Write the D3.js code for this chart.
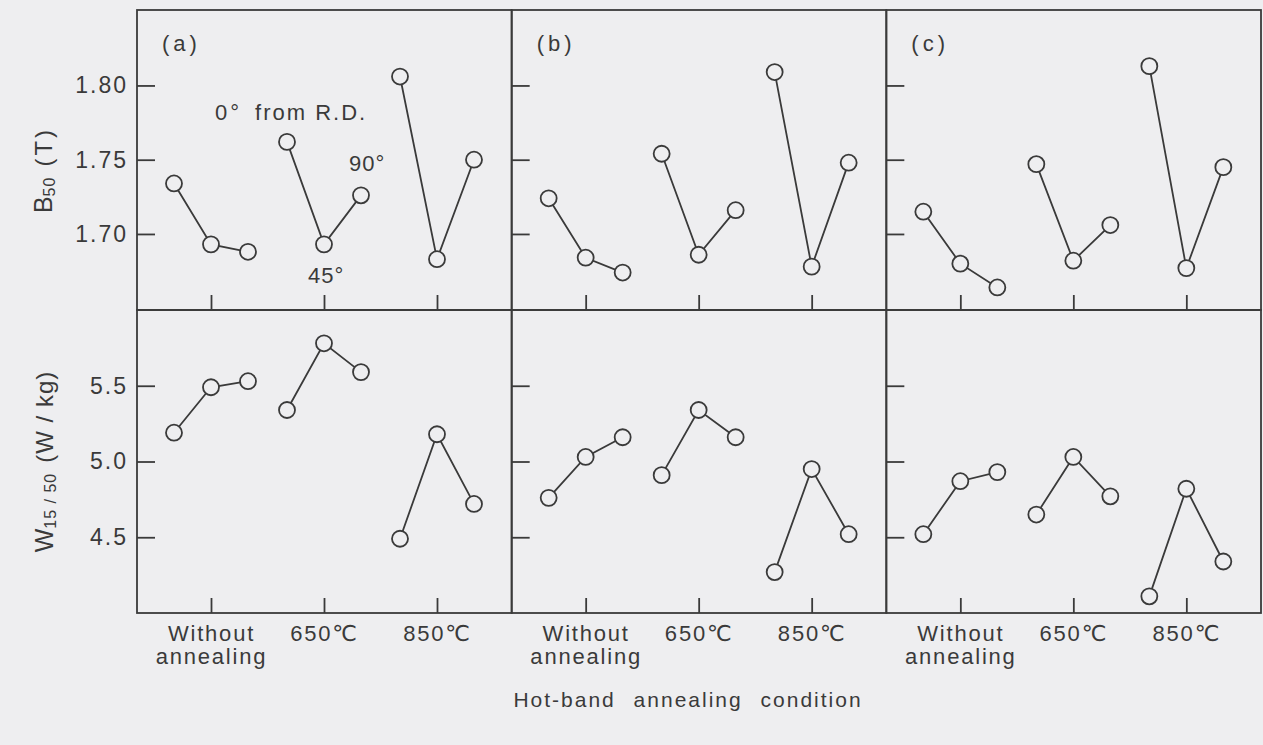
<!DOCTYPE html>
<html>
<head>
<meta charset="utf-8">
<script src="https://cdn.jsdelivr.net/npm/d3@7"></script>
<style>
	body { margin: 0; background: #eeeef0; }
	svg text { font-family: "Liberation Sans", Arial, "DejaVu Sans", sans-serif; fill: #3a3a3a; }
</style>
</head>
<body>
<div id="chart"></div>
<script>
// values
const conditions = ["Without annealing", "650℃", "850℃"];
const angles = [0, 45, 90];
const panelNames = ["(a)", "(b)", "(c)"];

// B50 (T), one row per condition, columns = 0, 45, 90 deg from R.D.
const b50_a = [[1.734, 1.693, 1.688], [1.762, 1.693, 1.726], [1.806, 1.683, 1.750]];
const b50_b = [[1.724, 1.684, 1.674], [1.754, 1.686, 1.716], [1.809, 1.678, 1.748]];
const b50_c = [[1.715, 1.680, 1.664], [1.747, 1.682, 1.706], [1.813, 1.677, 1.745]];

// W15/50 (W/kg)
const w1550_a = [[5.19, 5.49, 5.53], [5.34, 5.78, 5.59], [4.49, 5.18, 4.72]];
const w1550_b = [[4.76, 5.03, 5.16], [4.91, 5.34, 5.16], [4.27, 4.95, 4.52]];
const w1550_c = [[4.52, 4.87, 4.93], [4.65, 5.03, 4.77], [4.11, 4.82, 4.34]];

const b50Ticks = [1.70, 1.75, 1.80];
const w1550Ticks = [4.5, 5.0, 5.5];

var AnnealingPanels = function(view, plotWidth, plotHeight){
	const s = this;
	const
		LEFT = 137, RIGHT = 1261,
		TOP = 10, MID = 310, BOTTOM = 613,
		R = 8, Y_TICK = 18, X_TICK = 15,
		INK = "#3a3a3a", BG = "#eeeef0";

	var svg, panelX, xCond, xAng, yB, yW;

	s.init = function(){
		s.putToView();
		s.makeScales();
		s.drawFrames();
		s.drawAxes();
		s.drawSeries();
		s.drawLabels();
	}

	s.putToView = function(){
		svg = d3.select(view)
			.append("svg")
			.attr("width", plotWidth)
			.attr("height", plotHeight)
			.style("display", "block")
			.style("background", BG);
	}

	s.makeScales = function(){
		panelX = d3.scaleBand().domain(panelNames).range([LEFT, RIGHT]);
		xCond = d3.scalePoint().domain(conditions).range([74, 300]);
		xAng = d3.scaleLinear().domain([0, 90]).range([-37, 37]);
		yB = d3.scaleLinear().domain([1.6488, 1.8508]).range([MID, TOP]);
		yW = d3.scaleLinear().domain([4.0, 6.0]).range([BOTTOM, MID]);
	}

	s.rows = function(){
		return [
			{y: yB, top: TOP, bottom: MID, ticks: b50Ticks, fmt: d3.format(".2f"), data: [b50_a, b50_b, b50_c]},
			{y: yW, top: MID, bottom: BOTTOM, ticks: w1550Ticks, fmt: d3.format(".1f"), data: [w1550_a, w1550_b, w1550_c]}
		];
	}

	s.drawFrames = function(){
		s.rows().forEach(function(row){
			svg.selectAll(null)
				.data(panelNames)
				.enter()
				.append("rect")
				.attr("x", function(d){ return panelX(d); })
				.attr("y", row.top)
				.attr("width", panelX.bandwidth())
				.attr("height", row.bottom - row.top)
				.attr("fill", "none")
				.attr("stroke", INK)
				.attr("stroke-width", 1.8);
		});
	}

	s.drawAxes = function(){
		s.rows().forEach(function(row, ri){
			panelNames.forEach(function(p, pi){
				var yAxis = d3.axisLeft(row.y)
					.tickValues(row.ticks)
					.tickSizeInner(-Y_TICK).tickSizeOuter(0)
					.tickPadding(9)
					.tickFormat(pi == 0 ? row.fmt : "");
				var gy = svg.append("g")
					.attr("transform", "translate(" + panelX(p) + ",0)")
					.call(yAxis);
				gy.select(".domain").remove();
				gy.selectAll("line").attr("stroke", INK).attr("stroke-width", 1.8);
				gy.selectAll("text")
					.attr("fill", null)
					.style("font-size", "23px")
					.style("letter-spacing", "2px");

				var xAxis = d3.axisBottom(xCond)
					.tickSizeInner(-X_TICK).tickSizeOuter(0)
					.tickPadding(12)
					.tickFormat(ri == 1 ? function(d){ return d; } : "");
				var gx = svg.append("g")
					.attr("transform", "translate(" + panelX(p) + "," + row.bottom + ")")
					.call(xAxis);
				gx.select(".domain").remove();
				gx.selectAll("line").attr("stroke", INK).attr("stroke-width", 1.8);
				gx.selectAll("text")
					.attr("fill", null)
					.style("font-size", "22px")
					.style("letter-spacing", "1.8px")
					.each(function(d){
						if (ri != 1) return;
						var t = d3.select(this), words = d.split(" ");
						t.text(null);
						words.forEach(function(w, i){
							t.append("tspan")
								.attr("x", 0)
								.attr("dy", i == 0 ? "0.71em" : "1.05em")
								.text(w);
						});
					});
			});
		});
	}

	s.drawSeries = function(){
		s.rows().forEach(function(row){
			row.data.forEach(function(panelData, pi){
				var g = svg.append("g")
					.attr("transform", "translate(" + panelX(panelNames[pi]) + ",0)");
				panelData.forEach(function(vals, ci){
					var pts = vals.map(function(v, ai){
						return {x: xCond(conditions[ci]) + xAng(angles[ai]), y: row.y(v)};
					});
					g.append("path")
						.attr("d", d3.line().x(function(d){ return d.x; }).y(function(d){ return d.y; })(pts))
						.attr("fill", "none")
						.attr("stroke", INK)
						.attr("stroke-width", 1.8);
					g.selectAll(null)
						.data(pts)
						.enter()
						.append("circle")
						.attr("cx", function(d){ return d.x; })
						.attr("cy", function(d){ return d.y; })
						.attr("r", R)
						.attr("fill", BG)
						.attr("stroke", INK)
						.attr("stroke-width", 1.8);
				});
			});
		});
	}

	s.drawLabels = function(){
		// panel letters
		svg.selectAll(null)
			.data(panelNames)
			.enter()
			.append("text")
			.attr("x", function(d){ return panelX(d) + 25; })
			.attr("y", 51)
			.style("font-size", "22px")
			.style("letter-spacing", "4px")
			.text(function(d){ return d; });

		// angle notes next to the 650 group of panel (a)
		var ga = svg.append("g").attr("transform", "translate(" + panelX("(a)") + ",0)");
		var px = function(ai){ return xCond(conditions[1]) + xAng(angles[ai]); };
		var py = function(ai){ return yB(b50_a[1][ai]); };
		var n0 = ga.append("text").attr("x", px(0) - 72).attr("y", py(0) - 22)
			.style("font-size", "22px").style("letter-spacing", "2px");
		n0.append("tspan").text("0");
		n0.append("tspan").attr("dx", 1).text("°");
		n0.append("tspan").attr("dx", 14).text("from R.D.");
		ga.append("text").attr("x", px(1) - 16).attr("y", py(1) + 39)
			.style("font-size", "22px").style("letter-spacing", "1px").text("45°");
		ga.append("text").attr("x", px(2) - 12).attr("y", py(2) - 24)
			.style("font-size", "22px").style("letter-spacing", "1px").text("90°");

		// y titles
		var tb = svg.append("text")
			.attr("transform", "translate(52," + ((TOP + MID) / 2 + 10) + ") rotate(-90)")
			.attr("text-anchor", "middle")
			.style("font-size", "25px");
		tb.append("tspan").text("B");
		tb.append("tspan").attr("dy", 3).style("font-size", "16px").style("letter-spacing", "1px").text("50");
		tb.append("tspan").attr("dy", -3).attr("dx", 10).style("font-size", "24px").style("letter-spacing", "3px").text("(T)");

		var tw = svg.append("text")
			.attr("transform", "translate(53," + ((MID + BOTTOM) / 2) + ") rotate(-90)")
			.attr("text-anchor", "middle")
			.style("font-size", "25px");
		tw.append("tspan").text("W");
		tw.append("tspan").attr("dy", 3).style("font-size", "16px").style("letter-spacing", "1px").text("15 / 50");
		tw.append("tspan").attr("dy", -3).attr("dx", 10).style("font-size", "24px").style("letter-spacing", "1px").text("(W / kg)");

		// x title
		svg.append("text")
			.attr("x", (LEFT + RIGHT) / 2 - 11)
			.attr("y", 707)
			.attr("text-anchor", "middle")
			.style("font-size", "21px")
			.style("letter-spacing", "2px")
			.style("word-spacing", "10px")
			.text("Hot-band annealing condition");
	}
}

var chart = new AnnealingPanels("#chart", 1263, 745);
chart.init();
</script>
</body>
</html>
